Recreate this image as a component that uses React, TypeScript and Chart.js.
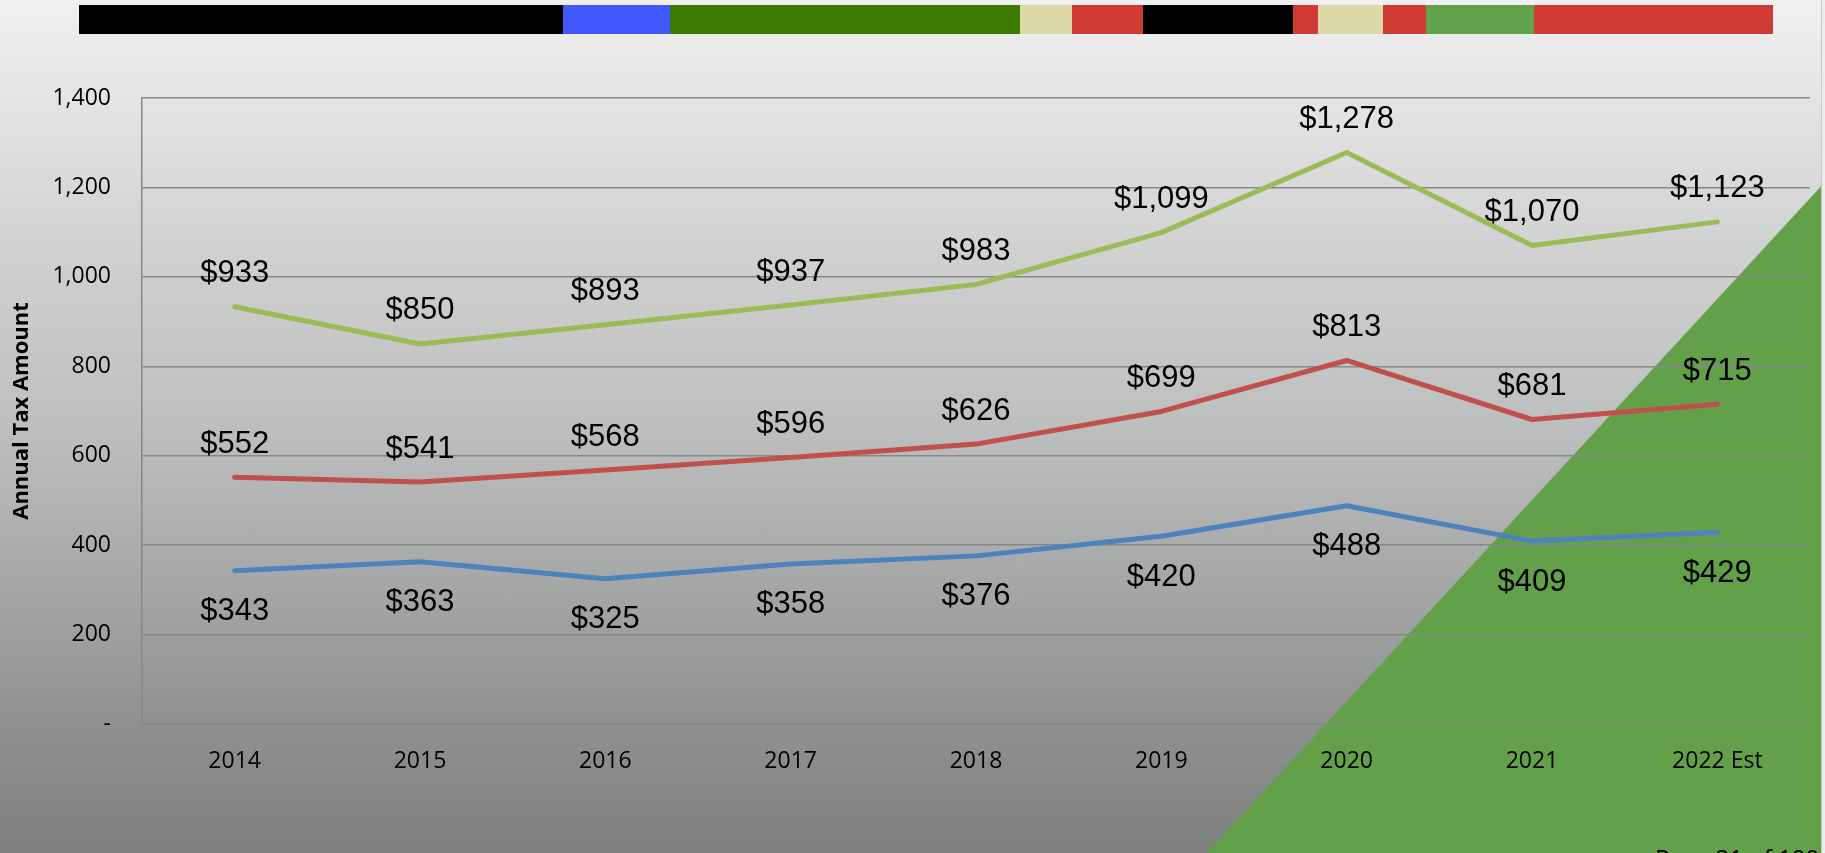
import React, { useEffect, useRef } from "react";
import { Chart, registerables } from "chart.js";

Chart.register(...registerables);

// ---- data ----
const years = ["2014", "2015", "2016", "2017", "2018", "2019", "2020", "2021", "2022 Est"];
const totalTax = [933, 850, 893, 937, 983, 1099, 1278, 1070, 1123];
const middleTax = [552, 541, 568, 596, 626, 699, 813, 681, 715];
const lowerTax = [343, 363, 325, 358, 376, 420, 488, 409, 429];
const yTickValues = [0, 200, 400, 600, 800, 1000, 1200, 1400];
const yAxisTitle = "Annual Tax Amount";
const pageText = "Page 21 of 100";

// ---- decoration (slide) ----
const topBarSegments: [string, number, number][] = [
  ["#000000", 79, 563],
  ["#4059fe", 563, 670],
  ["#3b7c00", 670, 1020],
  ["#ddd8a8", 1020, 1072],
  ["#d03a34", 1072, 1143],
  ["#000000", 1143, 1293],
  ["#d03a34", 1293, 1318],
  ["#ddd8a8", 1318, 1383],
  ["#d03a34", 1383, 1426],
  ["#63a04a", 1426, 1534],
  ["#d03a34", 1534, 1773],
];

const fmt = (v: number) => v.toLocaleString("en-US");

const valueLabels = {
  id: "valueLabels",
  afterDatasetsDraw(chart: any) {
    const ctx = chart.ctx;
    ctx.save();
    ctx.font = '31px "Liberation Sans", Arial, sans-serif';
    ctx.fillStyle = "#000000";
    ctx.textAlign = "center";
    ctx.textBaseline = "middle";
    chart.data.datasets.forEach((ds: any, i: number) => {
      const meta = chart.getDatasetMeta(i);
      meta.data.forEach((pt: any, j: number) => {
        const v = ds.data[j];
        ctx.fillText("$" + fmt(v), pt.x, pt.y + ds.labelOffset);
      });
    });
    ctx.restore();
  },
};

export default function App() {
  const canvasRef = useRef<HTMLCanvasElement | null>(null);

  useEffect(() => {
    const canvas = canvasRef.current;
    if (!canvas) return;
    const tickFont = { family: '"Open Sans", sans-serif', size: 23 };
    const chart = new Chart(canvas, {
      type: "line",
      data: {
        labels: years,
        datasets: [
          {
            label: "Total",
            data: totalTax,
            borderColor: "#9bbb59",
            backgroundColor: "#9bbb59",
            borderWidth: 5,
            pointRadius: 0,
            tension: 0,
            borderCapStyle: "round",
            borderJoinStyle: "round",
            labelOffset: -33,
          } as any,
          {
            label: "Series 2",
            data: middleTax,
            borderColor: "#c0504d",
            backgroundColor: "#c0504d",
            borderWidth: 5,
            pointRadius: 0,
            tension: 0,
            borderCapStyle: "round",
            borderJoinStyle: "round",
            labelOffset: -33,
          } as any,
          {
            label: "Series 3",
            data: lowerTax,
            borderColor: "#4f81bd",
            backgroundColor: "#4f81bd",
            borderWidth: 5,
            pointRadius: 0,
            tension: 0,
            borderCapStyle: "round",
            borderJoinStyle: "round",
            labelOffset: 41,
          } as any,
        ],
      },
      options: {
        responsive: false,
        animation: false,
        devicePixelRatio: 1,
        layout: { padding: { left: 0, top: 98, right: 15, bottom: 0 } },
        plugins: {
          legend: { display: false },
          tooltip: { enabled: false },
        },
        scales: {
          x: {
            type: "category",
            offset: true,
            grid: { display: false, drawTicks: false },
            border: { display: false },
            ticks: {
              color: "#000000",
              font: tickFont,
              padding: 24,
              maxRotation: 0,
              autoSkip: false,
            },
            afterFit: (s: any) => {
              s.height = 129;
            },
          },
          y: {
            min: 0,
            max: 1400,
            afterBuildTicks: (s: any) => {
              s.ticks = yTickValues.map((v) => ({ value: v }));
            },
            ticks: {
              color: "#000000",
              font: tickFont,
              padding: 31,
              callback: (v: any) => (Number(v) === 0 ? "-" : fmt(Number(v))),
            },
            grid: { color: "#878787", lineWidth: 1.5, drawTicks: false },
            border: { display: true, color: "#878787", width: 1.5 },
            title: {
              display: true,
              text: yAxisTitle,
              color: "#000000",
              font: { family: '"Open Sans", sans-serif', size: 22, weight: "bold" },
              padding: { top: 9, bottom: 0 },
            },
            afterFit: (s: any) => {
              s.width = 142;
            },
          },
        },
      },
      plugins: [valueLabels],
    });
    return () => chart.destroy();
  }, []);

  return (
    <div
      style={{
        position: "absolute",
        left: 0,
        top: 0,
        width: 1825,
        height: 853,
        overflow: "hidden",
        background:
          "linear-gradient(to bottom, #f0f0f0 0%, #eaeaea 6%, #cfd1d0 30%, #bcbfbe 50%, #a0a3a2 72%, #8e918f 85%, #7e807e 100%)",
      }}
    >
      <div
        style={{
          position: "absolute",
          left: 0,
          top: 0,
          width: 1825,
          height: 853,
          background: "#63a04a",
          clipPath: "polygon(1207px 853px, 1825px 182px, 1825px 853px)",
        }}
      />
      {topBarSegments.map(([c, x0, x1], i) => (
        <div
          key={i}
          style={{ position: "absolute", left: x0, top: 5, width: x1 - x0, height: 29, background: c }}
        />
      ))}
      <div
        style={{
          position: "absolute",
          left: 1821,
          top: 0,
          width: 4,
          height: 853,
          background: "#ececec",
          borderLeft: "1px solid #c8c8c8",
        }}
      />
      <div
        style={{
          position: "absolute",
          left: 1655,
          top: 846,
          fontFamily: '"Open Sans", sans-serif',
          fontSize: 24,
          lineHeight: 1,
          color: "#000000",
          whiteSpace: "nowrap",
        }}
      >
        {pageText}
      </div>
      <canvas
        ref={canvasRef}
        width={1825}
        height={853}
        style={{ position: "absolute", left: 0, top: 0, width: 1825, height: 853 }}
      />
    </div>
  );
}
